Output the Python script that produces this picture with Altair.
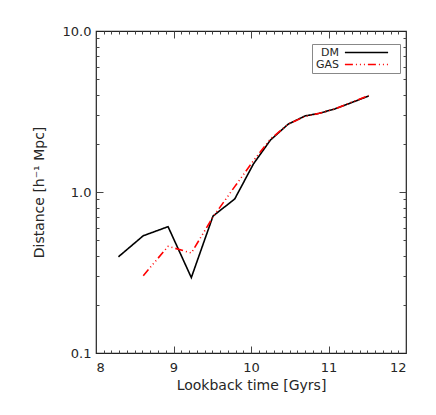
import altair as alt
import pandas as pd

# ---- data ----
series_names = ["DM", "GAS"]
dm_time = [8.29, 8.61, 8.93, 9.23, 9.51, 9.79, 10.03, 10.25, 10.48, 10.70, 10.88, 11.08, 11.31, 11.52]
dm_dist = [0.396, 0.535, 0.609, 0.294, 0.709, 0.905, 1.49, 2.10, 2.64, 2.97, 3.08, 3.28, 3.61, 3.95]
gas_time = [8.61, 8.93, 9.23, 9.51, 9.79, 10.03, 10.25, 10.48, 10.70, 10.88, 11.08, 11.31, 11.52]
gas_dist = [0.302, 0.460, 0.418, 0.700, 1.08, 1.56, 2.13, 2.64, 2.95, 3.08, 3.28, 3.63, 3.97]

x_labels = [8, 9, 10, 11, 12]
y_labels = [0.1, 1.0, 10.0]
x_major = [9, 10, 11]
x_minor = [8.1, 8.2, 8.3, 8.4, 8.5, 8.6, 8.7, 8.8, 8.9,
           9.1, 9.2, 9.3, 9.4, 9.5, 9.6, 9.7, 9.8, 9.9,
           10.1, 10.2, 10.3, 10.4, 10.5, 10.6, 10.7, 10.8, 10.9,
           11.1, 11.2, 11.3, 11.4, 11.5, 11.6, 11.7, 11.8, 11.9]
y_major = [1.0]
y_minor = [0.2, 0.3, 0.4, 0.5, 0.6, 0.7, 0.8, 0.9, 2, 3, 4, 5, 6, 7, 8, 9]

df = pd.concat([
    pd.DataFrame({"time": dm_time, "dist": dm_dist, "series": "DM"}),
    pd.DataFrame({"time": gas_time, "dist": gas_dist, "series": "GAS"}),
], ignore_index=True)

xs = alt.Scale(domain=[8, 12], nice=False, zero=False)
ys = alt.Scale(type="log", domain=[0.1, 10], nice=False)

FONT = "DejaVu Sans"
TXT = "#262626"

legend_cfg = dict(
    title=None, orient="none", legendX=216, legendY=13,
    symbolType="M-5.4,0H5.4M6.6,0L6.6,0", symbolSize=64, symbolStrokeWidth=1.6,
    rowPadding=0, labelAlign="right", labelOffset=alt.ExprRef("-33"),
    symbolOffset=46, labelFont=FONT, labelFontSize=11, labelColor=TXT,
    fillColor="white", strokeColor="#888", padding=3,
)

lines = alt.Chart(df).mark_line(strokeWidth=1.6).encode(
    x=alt.X("time:Q", scale=xs,
            axis=alt.Axis(orient="bottom", values=x_labels, format="d", ticks=False, domain=False,
                          grid=False, title="Lookback time [Gyrs]", labelPadding=8, titlePadding=4,
                          labelFont=FONT, titleFont=FONT, labelFontSize=13, titleFontSize=14,
                          labelColor=TXT, titleColor=TXT, titleFontWeight="normal")),
    y=alt.Y("dist:Q", scale=ys,
            axis=alt.Axis(orient="left", values=y_labels, format=".1f", ticks=False, domain=False,
                          grid=False, title="Distance [h\u207b\u00b9 Mpc]", labelPadding=5, titlePadding=16,
                          labelFont=FONT, titleFont=FONT, labelFontSize=13, titleFontSize=14,
                          labelColor=TXT, titleColor=TXT, titleFontWeight="normal")),
    color=alt.Color("series:N", scale=alt.Scale(domain=series_names, range=["black", "red"]),
                    legend=alt.Legend(**legend_cfg)),
    strokeDash=alt.StrokeDash("series:N",
                              scale=alt.Scale(domain=series_names, range=[[1, 0], [8, 3, 1, 3, 1, 3, 1, 3]]),
                              legend=alt.Legend(**legend_cfg)),
)


def tick_layer(x_orient, y_orient, xvals, yvals, size):
    return alt.Chart(df).mark_point(opacity=0).encode(
        x=alt.X("time:Q", scale=xs,
                axis=alt.Axis(orient=x_orient, values=xvals, tickSize=size, offset=-size,
                              labels=False, domain=False, grid=False, title=None,
                              tickColor="#444", tickWidth=1)),
        y=alt.Y("dist:Q", scale=ys,
                axis=alt.Axis(orient=y_orient, values=yvals, tickSize=size, offset=-size,
                              labels=False, domain=False, grid=False, title=None,
                              tickColor="#444", tickWidth=1)),
    )


chart = alt.layer(
    lines,
    tick_layer("bottom", "left", x_major, y_major, 7),
    tick_layer("bottom", "left", x_minor, y_minor, 3),
    tick_layer("top", "right", x_major, y_major, 7),
    tick_layer("top", "right", x_minor, y_minor, 3),
).resolve_axis(x="independent", y="independent").properties(
    width=310, height=322,
    padding={"left": 24, "top": 17, "right": 5, "bottom": 5},
).configure_view(stroke="#222", strokeWidth=1.2)

chart.save("out.html", embed_options={"renderer": "svg", "actions": False})
